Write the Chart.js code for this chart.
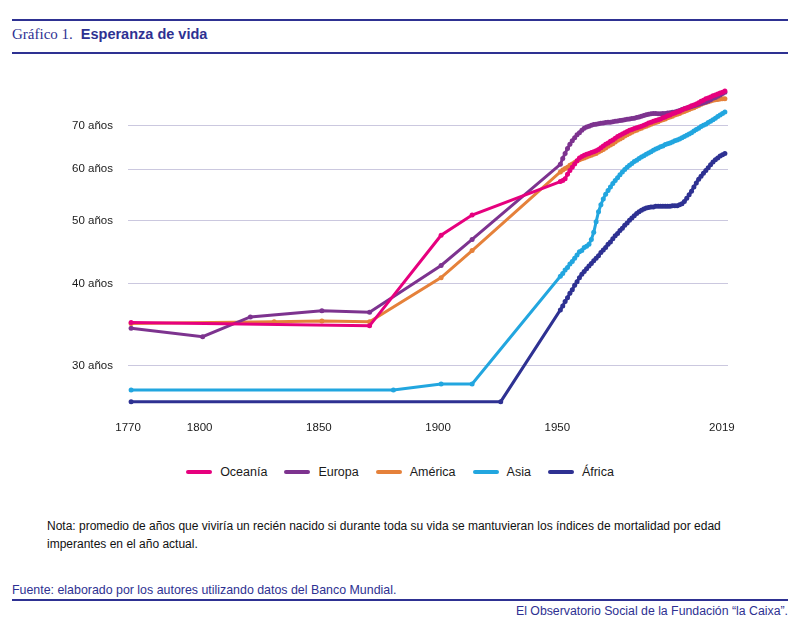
<!DOCTYPE html>
<html lang="es">
<head>
<meta charset="utf-8">
<title>Esperanza de vida</title>
<script src="https://cdn.jsdelivr.net/npm/chart.js@4.4.1/dist/chart.umd.min.js"></script>
<style>
  html, body { margin: 0; padding: 0; background: #fff; }
  body {
    width: 800px; height: 626px; position: relative; overflow: hidden;
    font-family: "Liberation Sans", Arial, sans-serif; color: #1a1a1a;
  }
  .rule { position: absolute; left: 12px; width: 776px; height: 2px; background: #2e3192; }
  #title { position: absolute; left: 12px; top: 25px; color: #2e3192; white-space: nowrap; }
  #title .num { font-family: "Liberation Serif", "Times New Roman", serif; font-size: 15px; }
  #title .txt { font-weight: bold; font-size: 14.5px; margin-left: 8px; }
  #chartWrap { position: absolute; left: 0; top: 0; width: 800px; height: 450px; }
  #legend {
    position: absolute; left: 0; top: 465px; width: 800px;
    display: flex; justify-content: center; gap: 17px; font-size: 12.5px;
  }
  #legend .item { display: flex; align-items: center; }
  #legend .swatch { width: 26px; height: 4px; border-radius: 2px; margin-right: 8px; }
  #note { position: absolute; left: 47px; top: 517px; font-size: 12px; line-height: 18px; color: #111; }
  #source { position: absolute; left: 12px; top: 583px; font-size: 12.4px; color: #2e3192; }
  #credit { position: absolute; right: 12px; top: 604px; font-size: 12.3px; color: #2e3192; }
</style>
</head>
<body>
<div class="rule" style="top:19px"></div>
<div id="title"><span class="num">Gráfico 1.</span><span class="txt">Esperanza de vida</span></div>
<div class="rule" style="top:52px"></div>

<div id="chartWrap"><canvas id="myChart" width="800" height="450"></canvas></div>
<div id="legend"></div>

<div id="note">Nota: promedio de años que viviría un recién nacido si durante toda su vida se mantuvieran los índices de mortalidad por edad<br>imperantes en el año actual.</div>
<div id="source">Fuente: elaborado por los autores utilizando datos del Banco Mundial.</div>
<div class="rule" style="top:599px"></div>
<div id="credit">El Observatorio Social de la Fundación “la Caixa”.</div>

<script>
// years shared by every series (sparse historical points, then yearly from 1950)
const years = [
  1770, 1800, 1820, 1830, 1850, 1870, 1880, 1900, 1913, 1925,
  1950, 1951, 1952, 1953, 1954, 1955, 1956, 1957, 1958, 1959,
  1960, 1961, 1962, 1963, 1964, 1965, 1966, 1967, 1968, 1969,
  1970, 1971, 1972, 1973, 1974, 1975, 1976, 1977, 1978, 1979,
  1980, 1981, 1982, 1983, 1984, 1985, 1986, 1987, 1988, 1989,
  1990, 1991, 1992, 1993, 1994, 1995, 1996, 1997, 1998, 1999,
  2000, 2001, 2002, 2003, 2004, 2005, 2006, 2007, 2008, 2009,
  2010, 2011, 2012, 2013, 2014, 2015, 2016, 2017, 2018, 2019
];

const oceania = [
  34.9, null, null, null, null, 34.5, null, 47.5, 51.0, null,
  57.4, 57.6, 58.0, 58.9, 59.7, 60.4, 61.1, 61.8, 62.4, 62.7,
  63.0, 63.2, 63.4, 63.6, 63.8, 64.0, 64.3, 64.7, 65.1, 65.5,
  65.8, 66.2, 66.5, 66.9, 67.3, 67.6, 67.9, 68.2, 68.5, 68.8,
  69.0, 69.2, 69.4, 69.6, 69.8, 70.0, 70.3, 70.6, 70.8, 71.0,
  71.2, 71.4, 71.6, 71.9, 72.1, 72.4, 72.6, 72.9, 73.1, 73.4,
  73.6, 73.9, 74.2, 74.4, 74.7, 75.0, 75.2, 75.5, 75.8, 76.2,
  76.5, 76.9, 77.1, 77.4, 77.7, 77.9, 78.2, 78.5, 78.7, 79.0
];

const europa = [
  34.2, 33.2, 35.6, null, 36.4, 36.2, null, 42.7, 46.8, null,
  61.0, 62.3, 63.4, 64.5, 65.5, 66.3, 67.0, 67.7, 68.2, 68.8,
  69.3, 69.6, 69.8, 70.0, 70.2, 70.3, 70.4, 70.5, 70.6, 70.7,
  70.8, 70.8, 70.9, 71.0, 71.1, 71.2, 71.3, 71.4, 71.5, 71.6,
  71.7, 71.8, 72.0, 72.1, 72.3, 72.5, 72.7, 72.8, 72.9, 73.0,
  73.0, 72.9, 72.9, 73.0, 73.0, 73.1, 73.2, 73.3, 73.4, 73.6,
  73.8, 74.0, 74.2, 74.4, 74.6, 74.8, 75.0, 75.2, 75.4, 75.6,
  75.8, 76.0, 76.3, 76.6, 77.0, 77.2, 77.6, 77.9, 78.3, 78.7
];

const america = [
  34.8, null, null, 35.0, 35.1, 35.0, null, 40.9, 45.0, null,
  59.4, 59.8, 60.1, 60.4, 60.8, 61.1, 61.4, 61.7, 62.0, 62.2,
  62.4, 62.6, 62.8, 63.0, 63.2, 63.4, 63.7, 64.0, 64.3, 64.6,
  65.0, 65.3, 65.6, 66.0, 66.4, 66.7, 67.0, 67.4, 67.7, 68.0,
  68.3, 68.6, 68.8, 69.1, 69.3, 69.6, 69.8, 70.0, 70.3, 70.5,
  70.7, 70.9, 71.2, 71.4, 71.6, 71.9, 72.1, 72.3, 72.6, 72.8,
  73.0, 73.3, 73.5, 73.8, 74.0, 74.3, 74.5, 74.8, 75.1, 75.4,
  75.7, 75.9, 76.1, 76.3, 76.5, 76.6, 76.7, 76.8, 76.9, 76.9
];

const asia = [
  27.5, null, null, null, null, null, 27.5, 28.1, 28.1, null,
  41.1, 41.5, 42.0, 42.4, 42.9, 43.3, 43.8, 44.3, 44.8, 45.0,
  45.5, 45.7, 46.0, 46.8, 48.0, 49.8, 51.6, 52.9, 54.0, 54.9,
  55.6, 56.3, 57.0, 57.6, 58.2, 58.8, 59.4, 59.9, 60.4, 60.8,
  61.2, 61.6, 61.9, 62.3, 62.6, 62.9, 63.2, 63.5, 63.8, 64.1,
  64.4, 64.6, 64.9, 65.1, 65.4, 65.6, 65.8, 66.0, 66.3, 66.5,
  66.7, 67.0, 67.3, 67.6, 67.9, 68.2, 68.6, 69.0, 69.3, 69.7,
  70.0, 70.3, 70.7, 71.0, 71.4, 71.8, 72.2, 72.6, 73.0, 73.4
];

const africa = [
  26.4, null, null, null, null, null, null, null, null, 26.4,
  36.5, 37.0, 37.6, 38.1, 38.7, 39.2, 39.8, 40.3, 40.9, 41.4,
  41.8, 42.2, 42.6, 43.0, 43.4, 43.8, 44.2, 44.7, 45.1, 45.5,
  46.0, 46.4, 46.9, 47.4, 47.8, 48.3, 48.7, 49.2, 49.6, 50.1,
  50.5, 50.9, 51.3, 51.6, 51.9, 52.1, 52.3, 52.4, 52.5, 52.5,
  52.6, 52.6, 52.6, 52.6, 52.6, 52.6, 52.6, 52.7, 52.7, 52.7,
  52.9, 53.1, 53.5, 54.1, 54.8, 55.5, 56.3, 57.1, 57.9, 58.5,
  59.1, 59.7, 60.3, 60.9, 61.5, 62.0, 62.4, 62.8, 63.1, 63.4
];

const seriesNames = ['Oceanía', 'Europa', 'América', 'Asia', 'África'];
const seriesColors = ['#e6007e', '#7d338f', '#e5813a', '#22a6df', '#2e3192'];
const seriesValues = [oceania, europa, america, asia, africa];

const xTicks = [1770, 1800, 1850, 1900, 1950, 2019];
const yTicks = [30, 40, 50, 60, 70];

function toPoints(values) {
  const pts = [];
  years.forEach((yr, i) => {
    if (values[i] !== null) pts.push({ x: yr, y: values[i] });
  });
  return pts;
}

const datasets = seriesNames.map((name, i) => ({
  label: name,
  data: toPoints(seriesValues[i]),
  borderColor: seriesColors[i],
  backgroundColor: seriesColors[i],
  borderWidth: 3,
  pointRadius: 2.5,
  pointBorderWidth: 0,
  pointHoverRadius: 2.5,
  tension: 0
}));

const tickFont = { family: '"Liberation Sans", Arial, sans-serif', size: 11.5 };

const ctx = document.getElementById('myChart').getContext('2d');
const myChart = new Chart(ctx, {
  type: 'line',
  data: { datasets: datasets },
  options: {
    responsive: false,
    animation: false,
    layout: { padding: { top: 84, right: 72, left: 0, bottom: 0 } },
    plugins: {
      legend: { display: false },
      tooltip: { enabled: false }
    },
    scales: {
      x: {
        type: 'linear',
        min: 1768.7,
        max: 2020.3,
        grid: { display: false, drawTicks: false },
        border: { display: false },
        afterBuildTicks: (axis) => { axis.ticks = xTicks.map(v => ({ value: v })); },
        afterFit: (axis) => { axis.height = 44; },
        ticks: {
          color: '#1a1a1a',
          font: tickFont,
          padding: 15,
          labelOffset: -3,
          maxRotation: 0,
          autoSkip: false,
          callback: (v) => String(v)
        }
      },
      y: {
        type: 'logarithmic',
        min: 26,
        max: 81,
        grid: { color: '#cbc8df', lineWidth: 1, drawTicks: false },
        border: { display: false },
        afterBuildTicks: (axis) => { axis.ticks = yTicks.map(v => ({ value: v })); },
        afterFit: (axis) => { axis.width = 128; },
        ticks: {
          color: '#1a1a1a',
          font: tickFont,
          padding: 15,
          autoSkip: false,
          callback: (v) => v + ' años'
        }
      }
    }
  }
});

// legend built from the chart's own datasets
const legendEl = document.getElementById('legend');
myChart.data.datasets.forEach(ds => {
  const item = document.createElement('div');
  item.className = 'item';
  const sw = document.createElement('span');
  sw.className = 'swatch';
  sw.style.background = ds.borderColor;
  const label = document.createElement('span');
  label.textContent = ds.label;
  item.appendChild(sw);
  item.appendChild(label);
  legendEl.appendChild(item);
});
</script>
</body>
</html>
